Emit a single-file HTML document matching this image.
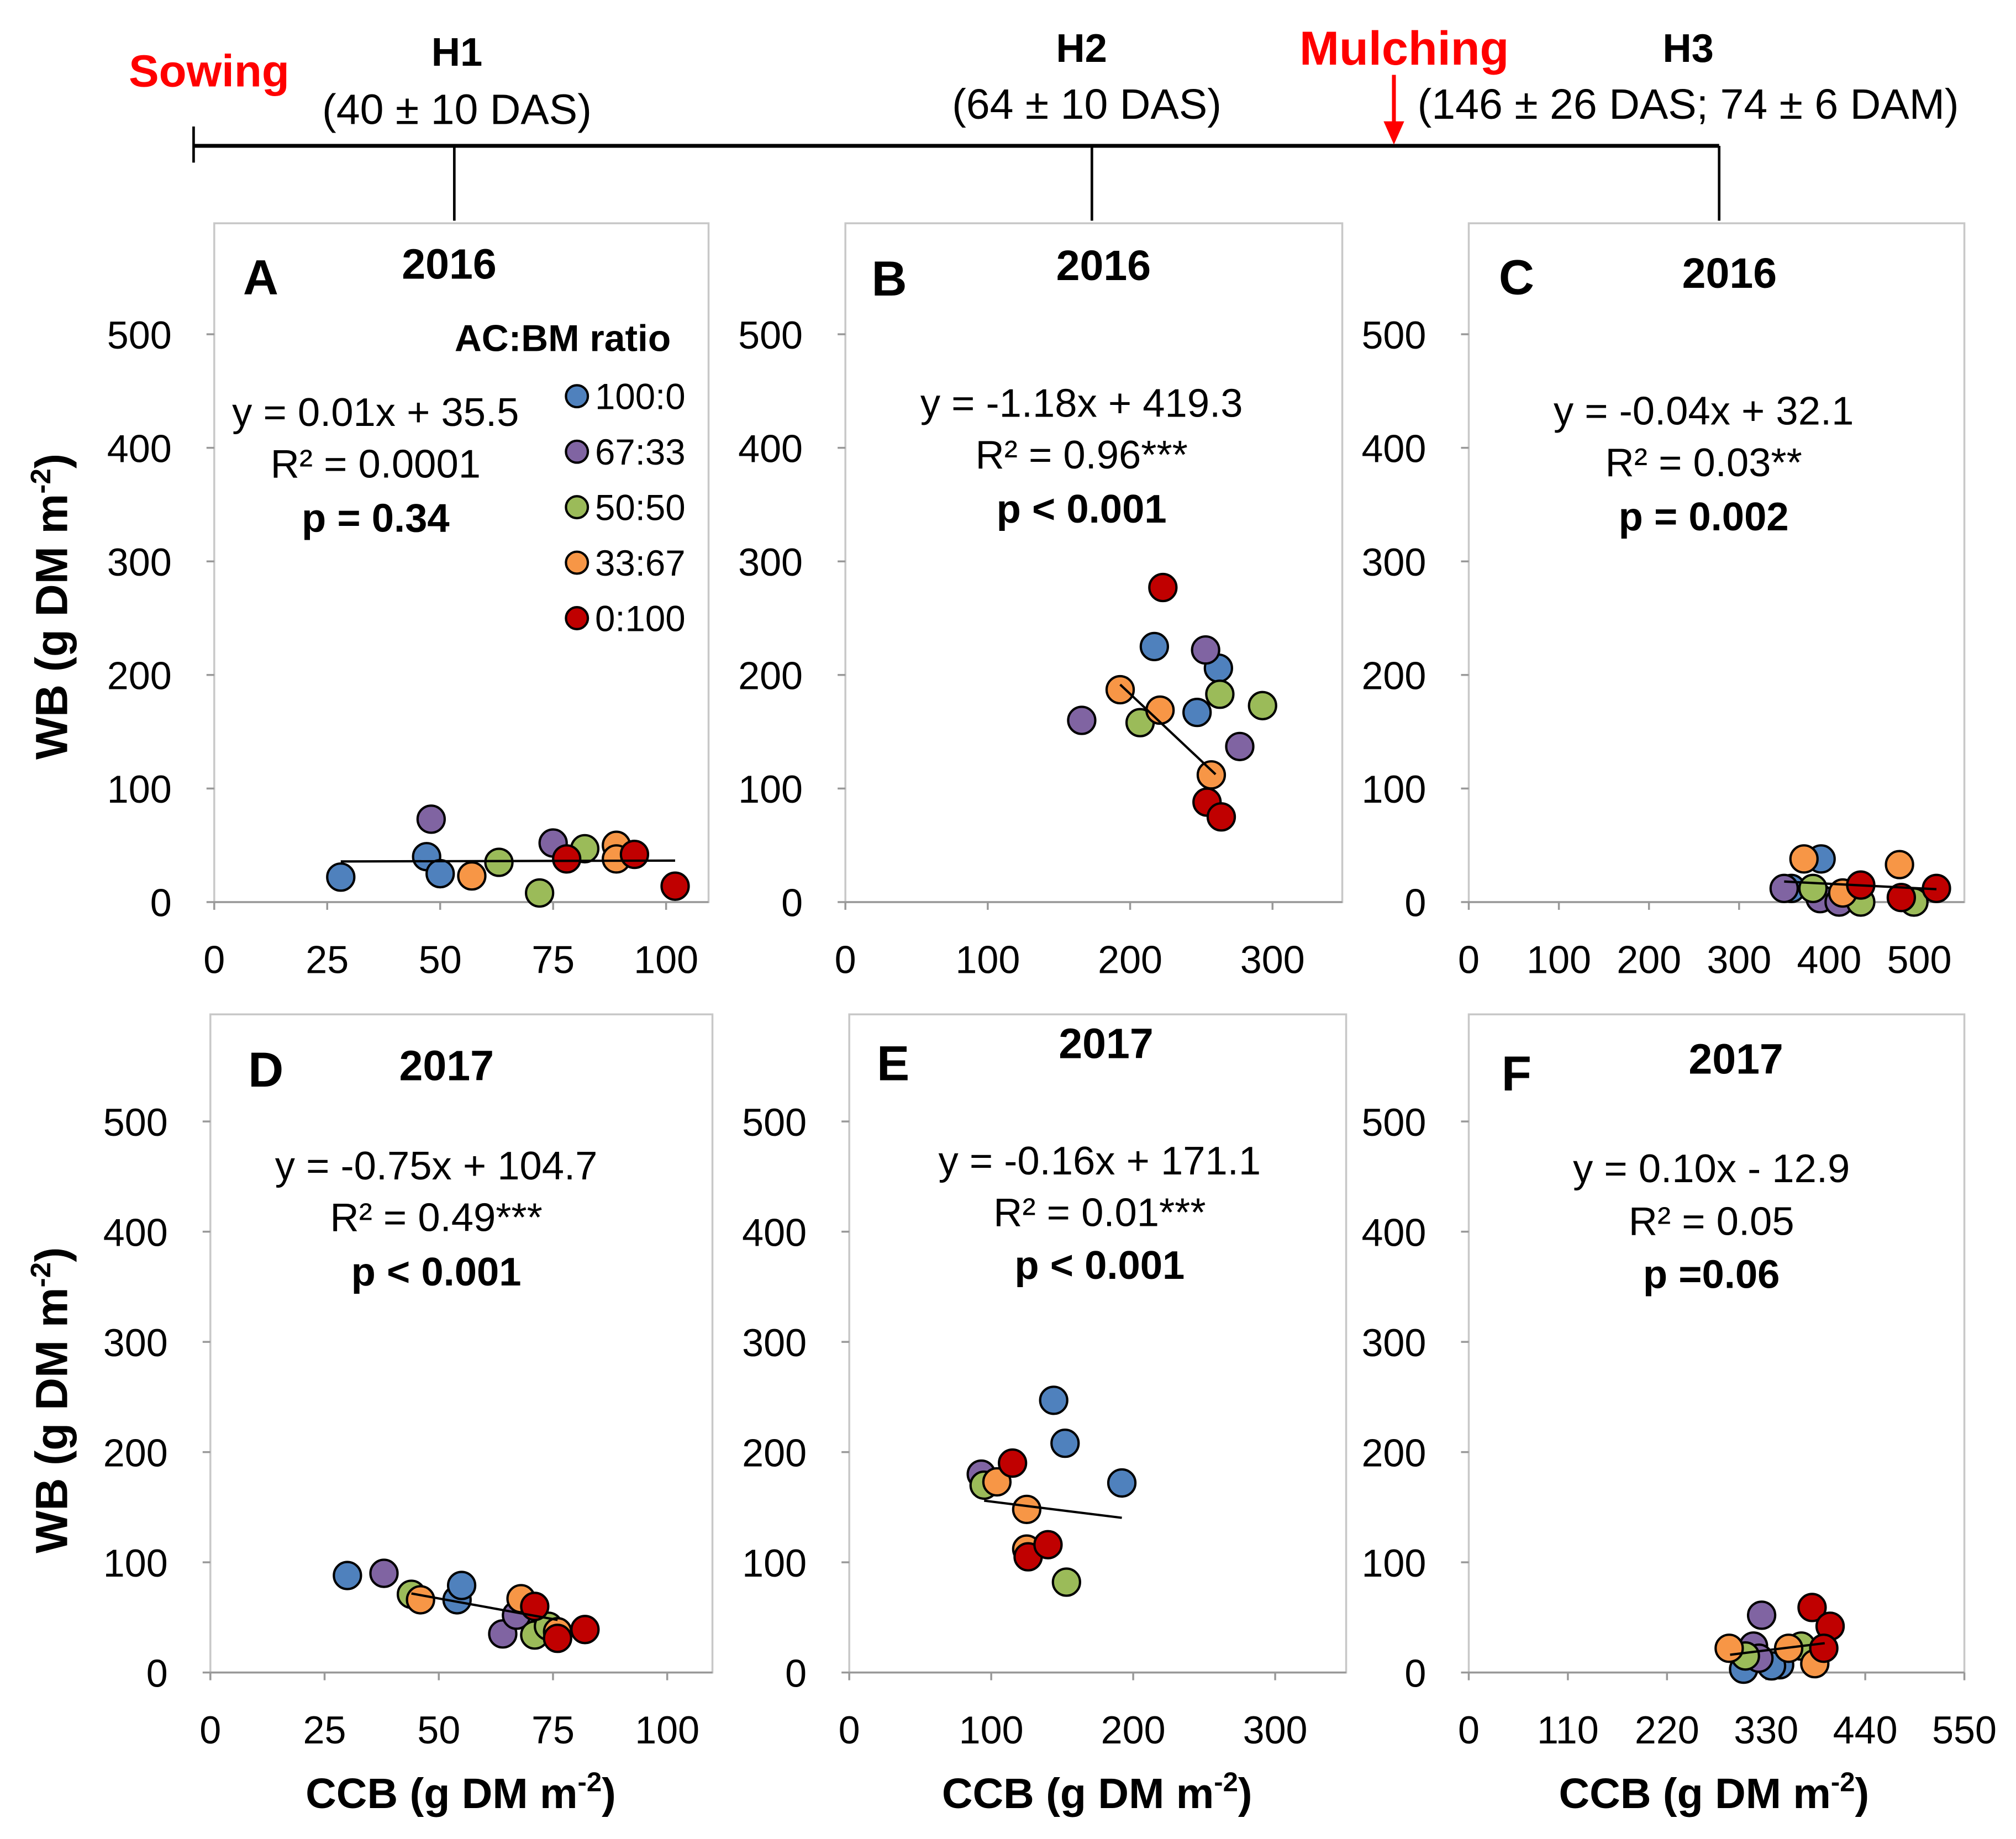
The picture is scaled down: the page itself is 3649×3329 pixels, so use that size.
<!DOCTYPE html>
<html><head><meta charset="utf-8"><style>
html,body{margin:0;padding:0;background:#fff}
svg{display:block}
text{font-family:"Liberation Sans",sans-serif}
</style></head><body>
<svg id="fig" width="3649" height="3329" viewBox="0 0 1562 1425" xmlns="http://www.w3.org/2000/svg">
<g>
<line x1="150" y1="113" x2="1332" y2="113" stroke="#000" stroke-width="3"/>
<line x1="150" y1="98" x2="150" y2="126" stroke="#000" stroke-width="2"/>
<line x1="352" y1="113" x2="352" y2="171" stroke="#000" stroke-width="2"/>
<line x1="846" y1="113" x2="846" y2="171" stroke="#000" stroke-width="2"/>
<line x1="1332" y1="113" x2="1332" y2="171" stroke="#000" stroke-width="2"/>
<text x="162" y="67" fill="#ff0000" font-size="35" font-weight="bold" text-anchor="middle">Sowing</text>
<text x="354" y="51" font-size="31" font-weight="bold" text-anchor="middle">H1</text>
<text x="354" y="96" font-size="33" text-anchor="middle">(40 ± 10 DAS)</text>
<text x="838" y="48" font-size="31" font-weight="bold" text-anchor="middle">H2</text>
<text x="842" y="92" font-size="33" text-anchor="middle">(64 ± 10 DAS)</text>
<text x="1088" y="50" fill="#ff0000" font-size="37" font-weight="bold" text-anchor="middle">Mulching</text>
<line x1="1080" y1="58" x2="1080" y2="98" stroke="#ff0000" stroke-width="3"/>
<polygon points="1072,94 1088,94 1080,112" fill="#ff0000"/>
<text x="1308" y="48" font-size="31" font-weight="bold" text-anchor="middle">H3</text>
<text x="1308" y="92" font-size="33" text-anchor="middle">(146 ± 26 DAS; 74 ± 6 DAM)</text>
</g>
<g id="panels"></g>
</svg>
<script>
const colors = ['#4f81bd','#8064a2','#9bbb59','#f79646','#c00000'];
const groups = ['100:0','67:33','50:50','33:67','0:100'];
const aX = [[28,47,50],[48,75],[63,72,82],[57,89,89],[78,93,102]];
const aY = [[22,40,25],[73,52],[35,8,47],[23,50,38],[38,42,14]];
const bX = [[217,262,247],[253,166,277],[263,293,207],[193,221,257],[223,254,264]];
const bY = [[225,206,167],[222,160,137],[183,173,158],[187,169,112],[277,88,75]];
const cX = [[391,358],[350,390,411],[382,435,494],[372,415,478],[435,480,519]];
const cY = [[38,12],[12,3,0],[12,0,0],[38,8,33],[15,4,12]];
const dX = [[30,54,55],[38,64,67],[44,71,74],[46,68,76],[71,76,82]];
const dY = [[88,66,79],[90,35,52],[71,34,42],[66,67,37],[60,31,39]];
const eX = [[144,152,192],[93],[95,153],[104,125,125],[115,126,140]];
const eY = [[247,208,172],[180],[170,82],[173,148,112],[190,105,116]];
const fX = [[305,345,336],[316,325,322],[307,369],[289,355,384],[381,401,394]];
const fY = [[3,7,6],[24,52,13],[15,24],[22,22,8],[59,42,22]];
const xTicksA = [0,25,50,75,100], xTicksB = [0,100,200,300], xTicksC = [0,100,200,300,400,500];
const xTicksF = [0,110,220,330,440,550];
const yTicks = [0,100,200,300,400,500];
const trendA = [28,102], trendB = [193,260], trendC = [350,519], trendD = [44,76], trendE = [95,192], trendF = [290,395];
const coefA=[0.01,35.5], coefB=[-1.18,419.3], coefC=[-0.04,32.1], coefD=[-0.75,104.7], coefE=[-0.16,171.1], coefF=[0.10,-12.9];

const panels = [
 {id:'a',L:166,T:173,R:549,B:699,xmax:109.4,ylab:133,xs:aX,ys:aY,xt:xTicksA,tr:trendA,co:coefA,letter:'A',lx:202,ly:228,year:'2016',yx:348,yy:216,eq:['y = 0.01x + 35.5','R² = 0.0001','p = 0.34'],ex:291,ey:[330,370,412],legend:true},
 {id:'b',L:655,T:173,R:1040,B:699,xmax:349,ylab:622,xs:bX,ys:bY,xt:xTicksB,tr:trendB,co:coefB,letter:'B',lx:689,ly:229,year:'2016',yx:855,yy:217,eq:['y = -1.18x + 419.3','R² = 0.96***','p < 0.001'],ex:838,ey:[323,363,405]},
 {id:'c',L:1138,T:173,R:1522,B:699,xmax:550,ylab:1105,xs:cX,ys:cY,xt:xTicksC,tr:trendC,co:coefC,letter:'C',lx:1175,ly:228,year:'2016',yx:1340,yy:223,eq:['y = -0.04x + 32.1','R² = 0.03**','p = 0.002'],ex:1320,ey:[329,369,411]},
 {id:'d',L:163,T:786,R:552,B:1296,xmax:109.9,ylab:130,xs:dX,ys:dY,xt:xTicksA,tr:trendD,co:coefD,letter:'D',lx:206,ly:842,year:'2017',yx:346,yy:837,eq:['y = -0.75x + 104.7','R² = 0.49***','p < 0.001'],ex:338,ey:[914,954,996],xtitle:357},
 {id:'e',L:658,T:786,R:1043,B:1296,xmax:350,ylab:625,xs:eX,ys:eY,xt:xTicksB,tr:trendE,co:coefE,letter:'E',lx:692,ly:837,year:'2017',yx:857,yy:820,eq:['y = -0.16x + 171.1','R² = 0.01***','p  < 0.001'],ex:852,ey:[910,950,991],xtitle:850},
 {id:'f',L:1138,T:786,R:1522,B:1296,xmax:550,ylab:1105,xs:fX,ys:fY,xt:xTicksF,tr:trendF,co:coefF,letter:'F',lx:1175,ly:845,year:'2017',yx:1345,yy:832,eq:['y = 0.10x - 12.9','R² = 0.05','p =0.06'],ex:1326,ey:[916,957,998],xtitle:1328}
];
const NS='http://www.w3.org/2000/svg';
const root=document.getElementById('panels');
function mk(tag,attrs,parent,txt){const e=document.createElementNS(NS,tag);for(const k in attrs)e.setAttribute(k,attrs[k]);if(txt!==undefined)e.textContent=txt;parent.appendChild(e);return e;}
panels.forEach(p=>{
  const g=mk('g',{},root);
  
  
  const y500 = p.T<500 ? 259 : 869;
  const sx=v=>p.L+(v/p.xmax)*(p.R-p.L);
  const sy=v=>p.B-(v/500)*(p.B-y500);
  const fr=mk('rect',{x:p.L,y:p.T,width:p.R-p.L,height:p.B-p.T,fill:'none',stroke:'#c8c8c8','stroke-width':1.5},g);
  
  
  const ax=mk('line',{x1:p.L,y1:p.B,x2:p.R,y2:p.B,stroke:'#999','stroke-width':1.5},g);
  
  
  yTicks.forEach(t=>{
    mk('line',{x1:p.L-6,y1:sy(t),x2:p.L,y2:sy(t),stroke:'#999','stroke-width':1.5},g);
    const tl=mk('text',{x:p.ylab,y:sy(t)+11,'font-size':30,'text-anchor':'end'},g,String(t));
    
    
  });
  p.xt.forEach(t=>{
    mk('line',{x1:sx(t),y1:p.B,x2:sx(t),y2:p.B+6,stroke:'#999','stroke-width':1.5},g);
    const tl=mk('text',{x:sx(t),y:p.B+55,'font-size':30,'text-anchor':'middle'},g,String(t));
    
    
  });
  p.xs.forEach((arr,gi)=>arr.forEach((xv,i)=>{
    const c=mk('circle',{cx:sx(xv),cy:sy(p.ys[gi][i]),r:10.5,fill:colors[gi],stroke:'#000','stroke-width':1.8},g);
    
    
  }));
  const tl=mk('line',{x1:sx(p.tr[0]),y1:sy(p.co[0]*p.tr[0]+p.co[1]),x2:sx(p.tr[1]),y2:sy(p.co[0]*p.tr[1]+p.co[1]),stroke:'#000','stroke-width':1.8},g);
  
  
  const le=mk('text',{x:p.lx,y:p.ly,'font-size':38,'font-weight':'bold','text-anchor':'middle'},g,p.letter);
  
  
  const yr=mk('text',{x:p.yx,y:p.yy,'font-size':33,'font-weight':'bold','text-anchor':'middle'},g,p.year);
  
  
  p.eq.forEach((s,i)=>{
    const t=mk('text',{x:p.ex,y:p.ey[i],'font-size':31,'font-weight':i==2?'bold':'normal','text-anchor':'middle'},g,s);
    
    
  });
  if(p.legend){
    const lt=mk('text',{x:436,y:272,'font-size':29,'font-weight':'bold','text-anchor':'middle'},g,'AC:BM ratio');
    
    
    groups.forEach((gname,i)=>{
      const y=307+i*43;
      const c=mk('circle',{cx:447,cy:y,r:8.5,fill:colors[i],stroke:'#000','stroke-width':1.8},g);
      
      
      const t=mk('text',{x:461,y:y+10,'font-size':28},g,gname);
      
      
    });
  }
  if(p.xtitle){
    const t=mk('text',{x:p.xtitle,y:1401,'font-size':33,'font-weight':'bold','text-anchor':'middle'},g);
    
    
    t.innerHTML='CCB (g DM m<tspan dy="-13" font-size="21">-2</tspan><tspan dy="13">)</tspan>';
  }
});
[470,1085].forEach((cy,i)=>{
  const t=mk('text',{x:0,y:0,'font-size':35,'font-weight':'bold','text-anchor':'middle',transform:`translate(52,${cy}) rotate(-90)`},root);
  
  
  t.innerHTML='WB (g DM m<tspan dy="-13" font-size="22">-2</tspan><tspan dy="13">)</tspan>';
});
</script>
</body></html>
